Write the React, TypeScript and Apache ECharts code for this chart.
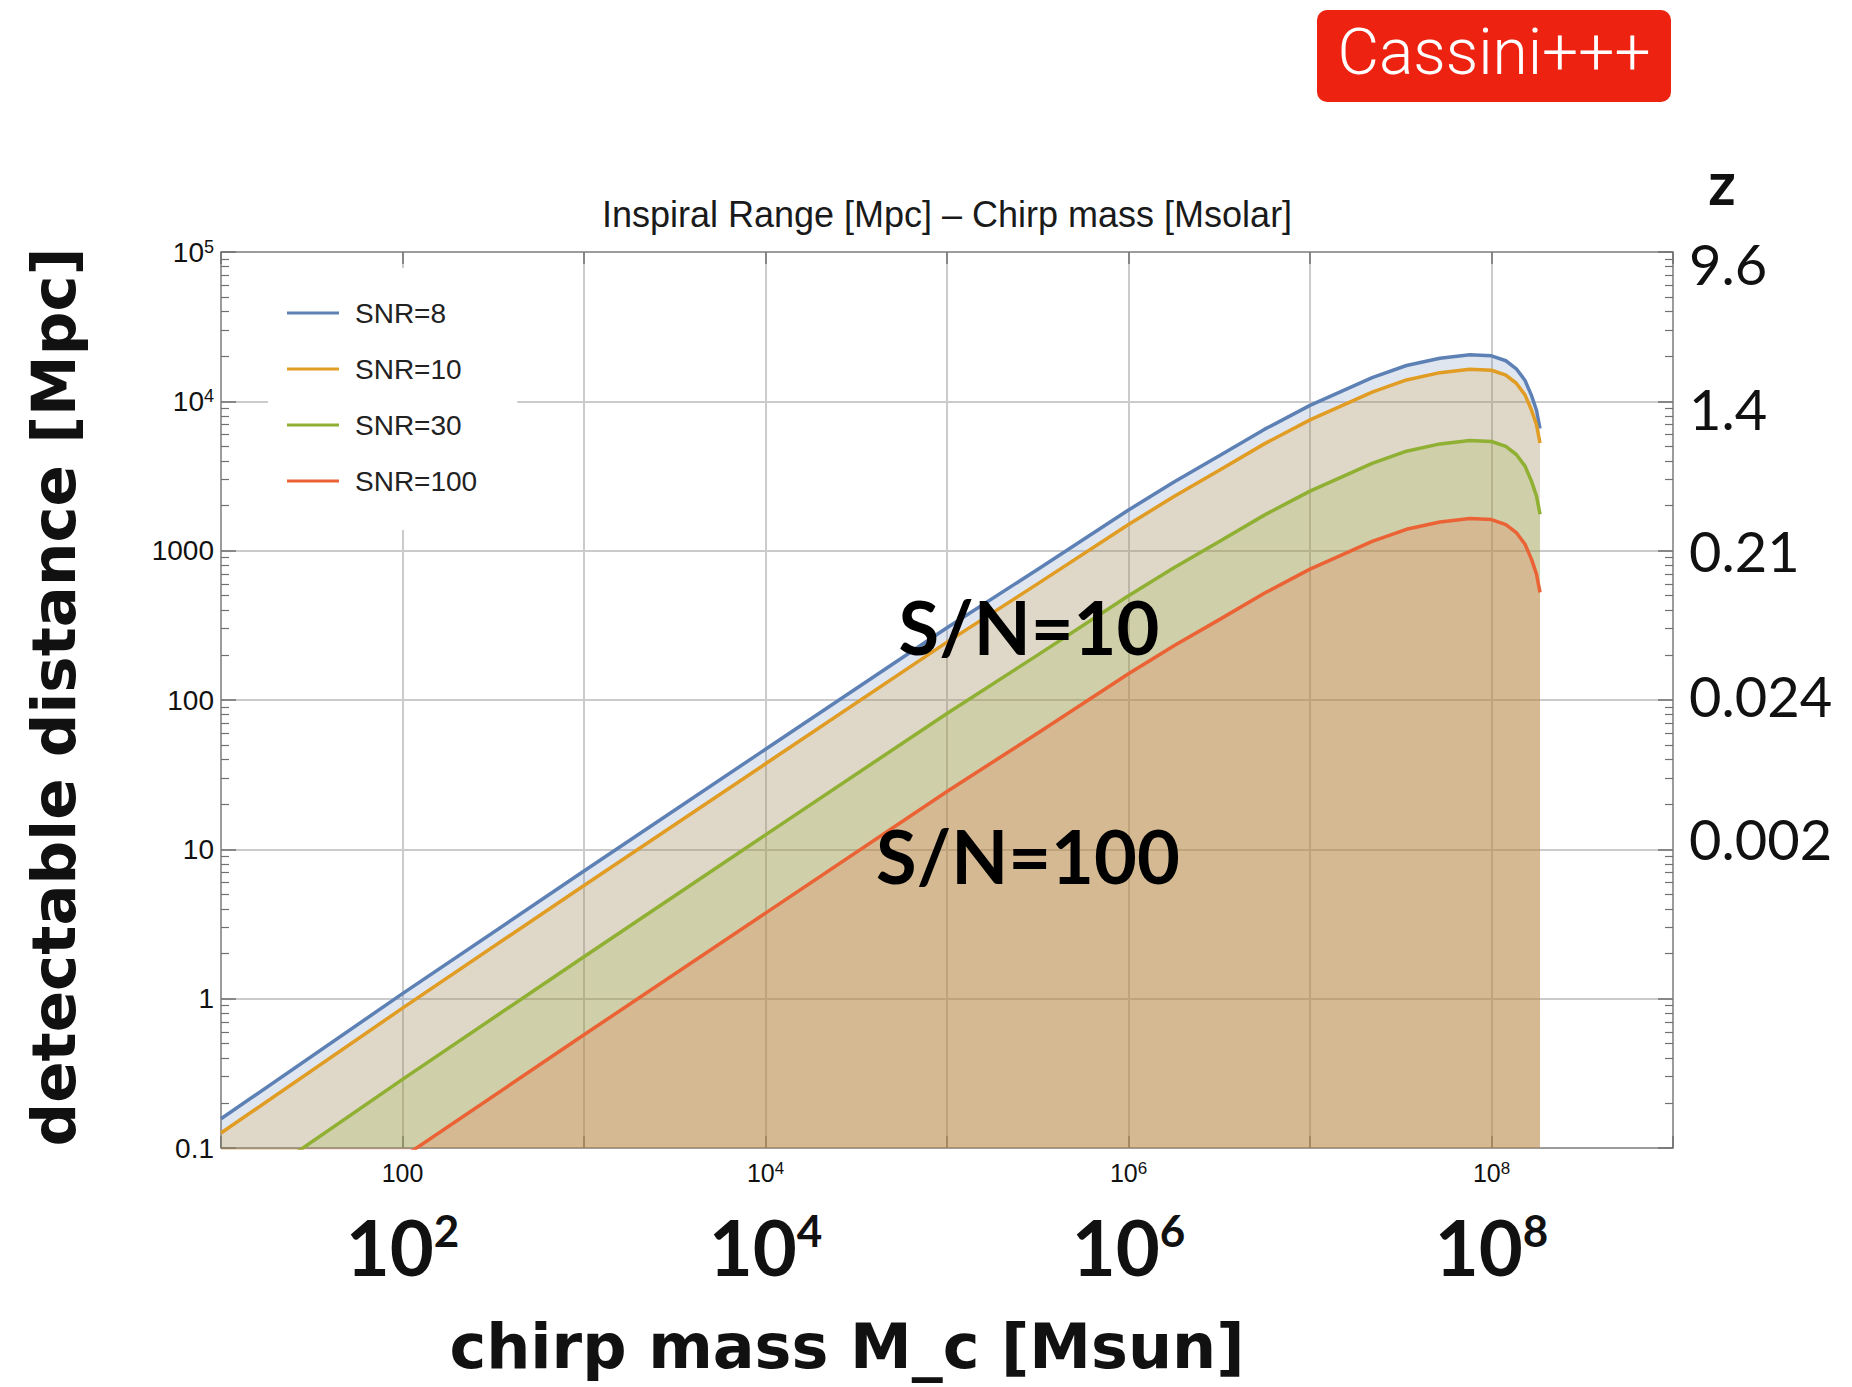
import React, { useEffect, useRef } from "react";
import * as echarts from "echarts";

// ---- data ----
const chirpMass = [10, 100, 1000, 1e4, 1e5, 3.2e5, 1e6, 1.78e6, 3.2e6, 5.6e6, 1e7, 1.5e7, 2.2e7, 3.4e7, 5.2e7, 7.6e7, 1e8, 1.2e8, 1.37e8, 1.53e8, 1.66e8, 1.77e8, 1.85e8];
const snr8 = [0.157, 1.08, 7.16, 46.8, 305, 757, 1871, 2884, 4355, 6486, 9397, 11700, 14420, 17378, 19454, 20512, 20184, 18700, 16520, 13804, 10965, 8710, 6577];
const snr10 = [0.126, 0.864, 5.73, 37.4, 244, 606, 1497, 2307, 3484, 5189, 7518, 9360, 11536, 13902, 15563, 16410, 16147, 14960, 13216, 11043, 8772, 6968, 5262];
const snr30 = [0.0419, 0.288, 1.91, 12.5, 81.3, 202, 499, 769, 1161, 1730, 2506, 3120, 3845, 4634, 5188, 5470, 5382, 4987, 4405, 3681, 2924, 2323, 1754];
const snr100 = [0.01256, 0.0864, 0.573, 3.74, 24.4, 60.6, 150, 231, 348, 519, 752, 936, 1154, 1390, 1556, 1641, 1615, 1496, 1322, 1104, 877, 697, 526];

const seriesNames = ["SNR=8", "SNR=10", "SNR=30", "SNR=100"];
const seriesColors = ["#5E81B5", "#E19C24", "#8FB032", "#EB6235"];

const xTickValues = [100, 1e4, 1e6, 1e8];
const xTickLabels = ["100", "10{sup|4}", "10{sup|6}", "10{sup|8}"];
const bigXTickValues = [100, 1e4, 1e6, 1e8];
const bigXTickLabels = ["10{sup|2}", "10{sup|4}", "10{sup|6}", "10{sup|8}"];
const yTickValues = [0.1, 1, 10, 100, 1000, 1e4, 1e5];
const yTickLabels = ["0.1", "1", "10", "100", "1000", "10{sup|4}", "10{sup|5}"];
const zTickValues = [10, 100, 1000, 1e4, 1e5];
const zTickLabels = ["{z0|0.002}", "{z1|0.024}", "{z2|0.21}", "{z3|1.4}", "{z4|9.6}"];

const X_MIN = 10;
const X_MAX = 1e9;
const Y_MIN = 0.1;
const Y_MAX = 1e5;

function pickLabel(values: number[], labels: string[]) {
  return (v: number) => {
    let best = 0;
    let bd = Infinity;
    for (let i = 0; i < values.length; i++) {
      const d = Math.abs(Math.log10(v) - Math.log10(values[i]));
      if (d < bd) {
        bd = d;
        best = i;
      }
    }
    return bd < 0.01 ? labels[best] : "";
  };
}

const minorY: number[] = [];
for (let k = -1; k < 5; k++) {
  for (let m = 2; m <= 9; m++) minorY.push(m * Math.pow(10, k));
}

const FRAME = "#8c8c8c";
const TICK = "#707070";
const GRID = "#cbcbcb";
const MATH_FONT = "Liberation Sans";
const BOLD_FONT = "Lato";
const WIDE_BOLD = "'DejaVu Sans', 'Open Sans', sans-serif";

const zBase = { fontFamily: BOLD_FONT, fontSize: 56, color: "#111111" };

export default function App() {
  const ref = useRef<HTMLDivElement>(null);

  useEffect(() => {
    if (!ref.current) return;
    const chart = echarts.init(ref.current, null, { renderer: "svg" });
    const dataSets = [snr8, snr10, snr30, snr100];

    const option: any = {
      animation: false,
      backgroundColor: "#ffffff",
      grid: {
        left: 221,
        top: 252,
        width: 1452,
        height: 896,
        containLabel: false,
        outerBoundsMode: "none",
      },
      legend: {
        data: seriesNames,
        orient: "vertical",
        left: 268,
        top: 268,
        icon: "rect",
        itemWidth: 52,
        itemHeight: 3,
        itemGap: 26,
        backgroundColor: "#ffffff",
        padding: [30, 40, 34, 19],
        textStyle: {
          fontFamily: MATH_FONT,
          fontSize: 28,
          color: "#222222",
          lineHeight: 30,
          padding: [0, 0, 0, 11],
        },
      },
      xAxis: [
        {
          type: "log",
          logBase: 10,
          min: X_MIN,
          max: X_MAX,
          position: "bottom",
          axisLine: { show: true, onZero: false, lineStyle: { color: FRAME, width: 1.5 } },
          axisTick: { show: true, inside: true, length: 12, lineStyle: { color: TICK, width: 1.5 } },
          axisLabel: {
            customValues: xTickValues,
            formatter: pickLabel(xTickValues, xTickLabels),
            fontFamily: MATH_FONT,
            fontSize: 25,
            color: "#111111",
            margin: 12,
            showMinLabel: true,
            showMaxLabel: true,
            rich: { sup: { fontFamily: MATH_FONT, fontSize: 17, color: "#111111", verticalAlign: "top" } },
          },
          splitLine: { show: true, lineStyle: { color: GRID, width: 2 } },
        },
        {
          type: "log",
          logBase: 10,
          min: X_MIN,
          max: X_MAX,
          position: "top",
          axisLine: { show: true, onZero: false, lineStyle: { color: FRAME, width: 1.5 } },
          axisTick: { show: true, inside: true, length: 12, lineStyle: { color: TICK, width: 1.5 } },
          axisLabel: { show: false },
          splitLine: { show: false },
        },
        {
          type: "log",
          logBase: 10,
          min: X_MIN,
          max: X_MAX,
          position: "bottom",
          axisLine: { show: false, onZero: false },
          axisTick: { show: false },
          splitLine: { show: false },
          axisLabel: {
            customValues: bigXTickValues,
            formatter: pickLabel(bigXTickValues, bigXTickLabels),
            fontFamily: BOLD_FONT,
            fontWeight: "bold",
            fontSize: 76,
            color: "#111111",
            margin: 60,
            showMinLabel: true,
            showMaxLabel: true,
            rich: { sup: { fontFamily: BOLD_FONT, fontWeight: "bold", fontSize: 44, color: "#111111", verticalAlign: "top" } },
          },
        },
      ],
      yAxis: [
        {
          type: "log",
          logBase: 10,
          min: Y_MIN,
          max: Y_MAX,
          position: "left",
          axisLine: { show: true, onZero: false, lineStyle: { color: FRAME, width: 1.5 } },
          axisTick: { show: true, inside: true, length: 15, lineStyle: { color: TICK, width: 1.5 } },
          axisLabel: {
            customValues: yTickValues,
            formatter: pickLabel(yTickValues, yTickLabels),
            fontFamily: MATH_FONT,
            fontSize: 28,
            color: "#111111",
            margin: 7,
            showMinLabel: true,
            showMaxLabel: true,
            rich: { sup: { fontFamily: MATH_FONT, fontSize: 18, color: "#111111", verticalAlign: "top" } },
          },
          splitLine: { show: true, lineStyle: { color: GRID, width: 2 } },
        },
        {
          type: "log",
          logBase: 10,
          min: Y_MIN,
          max: Y_MAX,
          position: "right",
          axisLine: { show: true, onZero: false, lineStyle: { color: FRAME, width: 1.5 } },
          axisTick: { show: true, inside: true, length: 15, lineStyle: { color: TICK, width: 1.5 } },
          axisLabel: {
            customValues: zTickValues,
            formatter: pickLabel(zTickValues, zTickLabels),
            fontFamily: BOLD_FONT,
            fontSize: 56,
            color: "#111111",
            margin: 16,
            showMinLabel: true,
            showMaxLabel: true,
            rich: {
              z0: { ...zBase, padding: [0, 0, 22, 0] },
              z1: { ...zBase, padding: [0, 0, 10, 0] },
              z2: { ...zBase },
              z3: { ...zBase, padding: [14, 0, 0, 0] },
              z4: { ...zBase, padding: [22, 0, 0, 0] },
            },
          },
          splitLine: { show: false },
        },
        {
          type: "log",
          logBase: 10,
          min: Y_MIN,
          max: Y_MAX,
          position: "left",
          axisLine: { show: false, onZero: false },
          axisTick: { show: true, inside: true, length: 8, customValues: minorY, lineStyle: { color: TICK, width: 1.2 } },
          axisLabel: { show: false },
          splitLine: { show: false },
        },
        {
          type: "log",
          logBase: 10,
          min: Y_MIN,
          max: Y_MAX,
          position: "right",
          axisLine: { show: false, onZero: false },
          axisTick: { show: true, inside: true, length: 8, customValues: minorY, lineStyle: { color: TICK, width: 1.2 } },
          axisLabel: { show: false },
          splitLine: { show: false },
        },
      ],
      series: seriesNames.map((name, i) => ({
        name,
        type: "line",
        xAxisIndex: 0,
        yAxisIndex: 0,
        data: chirpMass.map((m, j) => [m, dataSets[i][j]]),
        showSymbol: false,
        symbol: "none",
        smooth: false,
        clip: true,
        color: seriesColors[i],
        lineStyle: { color: seriesColors[i], width: 3.5, join: "round" },
        areaStyle: { color: seriesColors[i], opacity: 0.2, origin: "start" },
        z: 2 + i,
      })),
      graphic: [
        {
          type: "rect",
          shape: { x: 1317, y: 10, width: 354, height: 92, r: 10 },
          style: { fill: "#EE2211" },
        },
        {
          type: "text",
          x: 1494,
          y: 52,
          style: {
            text: "Cassini+++",
            fill: "#ffffff",
            font: "300 64px Roboto, 'Liberation Sans', sans-serif",
            textAlign: "center",
            textVerticalAlign: "middle",
          },
        },
        {
          type: "text",
          x: 947,
          y: 214,
          style: {
            text: "Inspiral Range [Mpc] \u2013 Chirp mass [Msolar]",
            fill: "#1a1a1a",
            font: "36px 'Liberation Sans Narrow', 'Liberation Sans', sans-serif",
            textAlign: "center",
            textVerticalAlign: "middle",
          },
        },
        {
          type: "text",
          x: 1722,
          y: 182,
          style: {
            text: "z",
            fill: "#111111",
            font: "bold 60px Lato, sans-serif",
            textAlign: "center",
            textVerticalAlign: "middle",
          },
        },
        {
          type: "text",
          x: 1029,
          y: 626,
          z: 100,
          style: {
            text: "S/N=10",
            fill: "#000000",
            font: "bold 74px Lato, sans-serif",
            textAlign: "center",
            textVerticalAlign: "middle",
          },
        },
        {
          type: "text",
          x: 1028,
          y: 855,
          z: 100,
          style: {
            text: "S/N=100",
            fill: "#000000",
            font: "bold 74px Lato, sans-serif",
            textAlign: "center",
            textVerticalAlign: "middle",
          },
        },
        {
          type: "text",
          x: 847,
          y: 1346,
          style: {
            text: "chirp mass M_c [Msun]",
            fill: "#111111",
            font: "bold 62px " + WIDE_BOLD,
            textAlign: "center",
            textVerticalAlign: "middle",
          },
        },
        {
          type: "text",
          x: 53,
          y: 697,
          rotation: Math.PI / 2,
          style: {
            text: "detectable distance [Mpc]",
            fill: "#111111",
            font: "bold 61px " + WIDE_BOLD,
            textAlign: "center",
            textVerticalAlign: "middle",
          },
        },
      ],
    };

    chart.setOption(option);
    return () => {
      chart.dispose();
    };
  }, []);

  return (
    <div
      ref={ref}
      style={{
        position: "fixed",
        left: 0,
        top: 0,
        width: "1852px",
        height: "1387px",
        background: "#ffffff",
      }}
    />
  );
}
